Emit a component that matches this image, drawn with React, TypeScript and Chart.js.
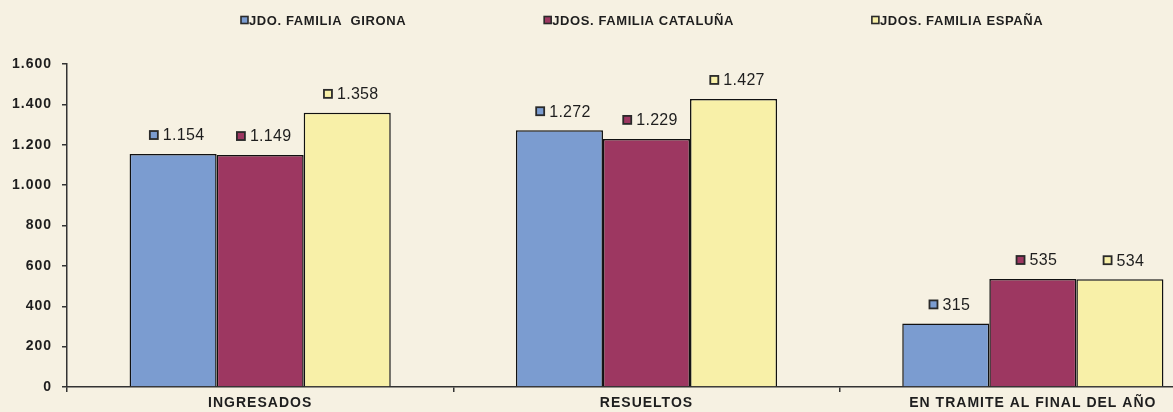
import React, { useEffect, useRef } from "react";
import { Chart, registerables } from "chart.js";

Chart.register(...registerables);

const categories = ["INGRESADOS", "RESUELTOS", "EN TRAMITE AL FINAL DEL AÑO"];
const seriesNames = ["JDO. FAMILIA  GIRONA", "JDOS. FAMILIA CATALUÑA", "JDOS. FAMILIA ESPAÑA"];
const gironaValues = [1154, 1272, 315];
const catalunaValues = [1149, 1229, 535];
const espanaValues = [1358, 1427, 534];
const yMin = 0;
const yMax = 1600;
const yStep = 200;

const seriesColors = ["#7b9cd0", "#9d3761", "#f8f0a8"];
const FONT = "'Liberation Sans', Arial, sans-serif";
const TEXT = "#1e1e1e";

const fmt = (v: number) => String(v).replace(/\B(?=(\d{3})+(?!\d))/g, ".");

const spacingPlugin = {
  id: "spacing",
  beforeDraw(chart: any) {
    chart.ctx.letterSpacing = "1px";
  },
};

const valueLabels = {
  id: "valueLabels",
  afterDatasetsDraw(chart: any) {
    const ctx = chart.ctx;
    ctx.save();
    ctx.font = `16px ${FONT}`;
    ctx.letterSpacing = "0.3px";
    ctx.textBaseline = "middle";
    ctx.textAlign = "left";
    chart.data.datasets.forEach((ds: any, di: number) => {
      const meta = chart.getDatasetMeta(di);
      meta.data.forEach((bar: any, i: number) => {
        const txt = fmt(ds.data[i]);
        const tw = ctx.measureText(txt).width;
        const sq = 8;
        const gap = 5;
        const total = sq + gap + tw;
        const cx = bar.x + 4;
        const cy = bar.y - 19;
        const x0 = cx - total / 2;
        ctx.fillStyle = ds.backgroundColor;
        ctx.fillRect(x0, cy - sq / 2, sq, sq);
        ctx.lineWidth = 1.8;
        ctx.strokeStyle = "#2a2a2a";
        ctx.strokeRect(x0, cy - sq / 2, sq, sq);
        ctx.fillStyle = TEXT;
        ctx.fillText(txt, x0 + sq + gap, cy + 1);
      });
    });
    ctx.restore();
  },
};

const customLegend = {
  id: "customLegend",
  afterDraw(chart: any) {
    const ctx = chart.ctx;
    ctx.save();
    ctx.font = `bold 13px ${FONT}`;
    ctx.letterSpacing = "0.6px";
    ctx.textBaseline = "middle";
    ctx.textAlign = "left";
    let x = 241;
    const y = 20;
    chart.data.datasets.forEach((ds: any) => {
      const sq = 7;
      ctx.fillStyle = ds.backgroundColor;
      ctx.fillRect(x, y - sq / 2, sq, sq);
      ctx.lineWidth = 1.6;
      ctx.strokeStyle = "#2a2a2a";
      ctx.strokeRect(x, y - sq / 2, sq, sq);
      ctx.fillStyle = TEXT;
      ctx.fillText(ds.label, x + sq + 1, y + 1);
      const w = ctx.measureText(ds.label).width;
      x += sq + 1 + w + 138;
    });
    ctx.restore();
  },
};

export default function App() {
  const ref = useRef<HTMLCanvasElement | null>(null);
  useEffect(() => {
    if (!ref.current) return;
    const datasets = [gironaValues, catalunaValues, espanaValues].map((vals, i) => ({
      label: seriesNames[i],
      data: vals,
      backgroundColor: seriesColors[i],
      borderColor: "#111111",
      borderWidth: 1.5,
      categoryPercentage: 0.676,
      barPercentage: 1,
    }));
    const chart = new Chart(ref.current, {
      type: "bar",
      data: { labels: categories, datasets },
      options: {
        animation: false,
        responsive: false,
        devicePixelRatio: 1,
        layout: { padding: { top: 64, left: 0, right: 4, bottom: 0 } },
        plugins: {
          legend: { display: false },
          tooltip: { enabled: false },
        },
        scales: {
          x: {
            grid: {
              display: true,
              drawOnChartArea: false,
              drawTicks: true,
              tickLength: 5,
              color: "#333333",
              lineWidth: 1.5,
              offset: true,
            },
            border: { display: true, color: "#333333", width: 1.5 },
            ticks: {
              color: TEXT,
              font: { family: FONT, size: 14, weight: "bold" },
              padding: 3,
              maxRotation: 0,
              autoSkip: false,
            },
            afterFit(scale: any) {
              scale.height = 25;
            },
          },
          y: {
            min: yMin,
            max: yMax,
            grid: {
              display: true,
              drawOnChartArea: false,
              drawTicks: true,
              tickLength: 5,
              color: "#333333",
              lineWidth: 1.5,
            },
            border: { display: true, color: "#333333", width: 1.5 },
            ticks: {
              stepSize: yStep,
              color: TEXT,
              font: { family: FONT, size: 14, weight: "bold" },
              padding: 10,
              callback: (v: any) => fmt(Number(v)),
            },
            afterFit(scale: any) {
              scale.width = 67;
            },
          },
        },
      },
      plugins: [spacingPlugin, valueLabels, customLegend],
    } as any);
    return () => chart.destroy();
  }, []);
  return (
    <div
      style={{
        position: "fixed",
        left: 0,
        top: 0,
        width: 1173,
        height: 412,
        overflow: "hidden",
        background: "#f6f1e2",
      }}
    >
      <canvas ref={ref} width={1230} height={412} style={{ display: "block", width: 1230, height: 412 }} />
    </div>
  );
}
